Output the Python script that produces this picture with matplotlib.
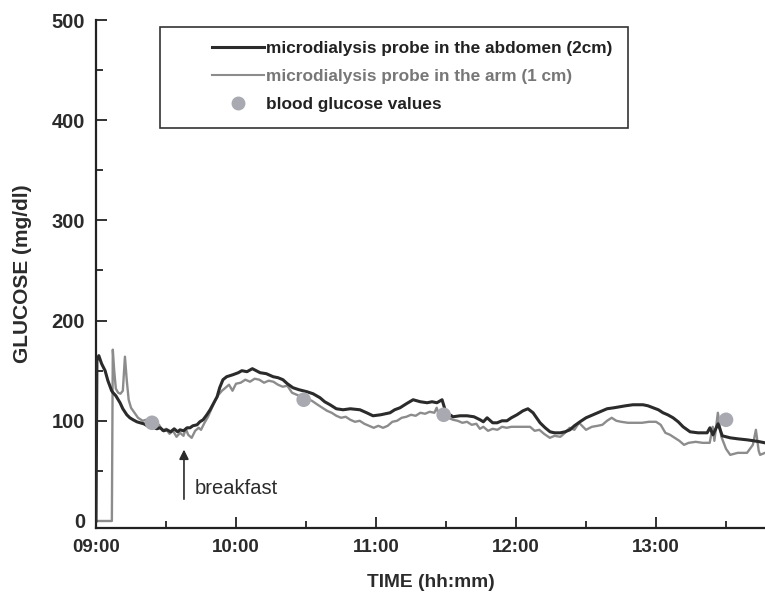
import matplotlib
matplotlib.use('Agg')
import matplotlib.pyplot as plt
from matplotlib.lines import Line2D
from matplotlib.patches import Rectangle
from matplotlib.ticker import MultipleLocator, FuncFormatter

plt.rcParams['font.family'] = ['Liberation Sans', 'DejaVu Sans']

# minutes after 09:00
abd_t = [0, 0.4, 1.2, 2.4, 3.9, 5.1, 6.7, 7.3, 8.5, 10.3, 11.5, 13.2, 14.5, 15.9, 17.5, 18.9,
         20.5, 22, 24.4, 26, 27.5, 29, 30.4, 32, 33.5, 35, 36, 37.5, 39, 40.3, 41.5, 43.3,
         44.5, 45.9, 47.5, 48.9, 50.5, 51.9, 53, 54.4, 56, 58.7, 61, 62.5, 64.7, 67, 70.3,
         73, 75.9, 78, 80.1, 82, 84.4, 87, 90.4, 93, 96, 98, 100.3, 103, 105.9, 109, 113.1,
         116, 118.7, 122, 126, 128, 130.3, 133, 135.9, 139, 141.9, 144, 146.1, 148.3, 149.6,
         151, 153, 156, 159, 162, 164.6, 166, 167.6, 170, 171.9, 174, 176.1, 178, 180.4, 183,
         185.1, 187.3, 190.3, 192.5, 194.6, 196.5, 198.9, 201, 203.1, 205, 207.4, 210, 213,
         216, 219, 222, 224.6, 227, 230.1, 232, 234.4, 236.5, 238.7, 241, 243, 245, 247.3,
         249.5, 251.6, 254.6, 258, 261.9, 263.1, 264.4, 266.6, 268.4, 271.8, 275, 279, 282,
         284.6, 286.7]
abd_v = [0, 160, 165, 157, 150, 140, 130, 128, 125, 118, 112, 106, 103, 101, 99, 98,
         97, 95, 94, 92, 93, 90, 91, 89, 92, 89, 91, 90, 93, 93, 95, 96,
         99, 101, 106, 111, 118, 124, 133, 141, 144, 146, 148, 150, 149, 152, 148,
         147, 144, 143, 141, 137, 133, 131, 129, 127, 123, 119, 116, 112, 111, 112, 111,
         108, 105, 106, 108, 111, 113, 117, 121, 119, 118, 119, 118, 121, 111,
         107, 104, 105, 105, 104, 101, 99, 103, 98, 98, 100, 100, 103, 106, 110,
         112, 108, 98, 93, 89, 88, 88, 89, 91, 95, 99, 103, 106,
         109, 112, 113, 114, 115, 116, 116, 116, 115, 113, 111, 108, 106, 103,
         99, 94, 89, 88, 88, 93, 86, 97, 85, 83, 82, 81, 80,
         79, 78]

arm_t = [0, 6.8, 7.2, 7.8, 8.5, 9.5, 10.5, 11.5, 12.4, 13.2, 14, 15, 16.5, 18, 20, 21.5,
         23, 24.5, 26, 27, 28.5, 30, 31.5, 33, 34.5, 36, 37.5, 38.5, 39.5, 41, 42.5, 44,
         45, 46.5, 48, 49.5, 51, 52.5, 54, 55.5, 57, 58.5, 60, 62, 64, 66, 68, 70, 72, 74,
         76, 78, 80, 82, 84, 86, 88, 90, 92.5, 95, 97, 99, 101, 103, 105, 107, 109, 111,
         113, 115, 117, 119, 121, 123, 125, 127, 129, 131, 133, 135, 137, 139, 141, 143,
         145, 146, 147, 149, 151, 153, 155, 157, 159, 161, 163, 164.5, 166, 168, 170, 172,
         174, 176, 178, 180, 183, 186, 188, 190, 192, 194.5, 196.5, 199, 201, 203, 205,
         207, 210, 212.5, 215, 217, 219, 221, 223, 225, 228, 231, 234, 237, 240, 242, 244,
         246, 248, 250, 252, 254, 257, 260, 263, 264.3, 265, 266.5, 268, 270, 271.8, 275,
         279, 281.5, 282.8, 284, 284.6, 286.7]
arm_v = [0, 0, 171, 150, 132, 128, 127, 130, 164, 140, 121, 113, 108, 103, 100, 101,
         97, 99, 93, 96, 90, 92, 87, 90, 84, 88, 85, 92, 86, 83, 90, 93,
         91, 98, 104, 112, 120, 126, 130, 133, 136, 130, 137, 138, 141, 139, 142, 141, 138, 140,
         139, 136, 134, 135, 128, 126, 124, 122, 120, 116, 113, 110, 108, 105, 103, 104, 101, 99,
         100, 97, 95, 93, 95, 93, 95, 99, 100, 103, 104, 106, 105, 108, 107, 109,
         108, 113, 105, 106, 103, 101, 100, 98, 99, 96, 97, 92, 94, 90, 92, 91,
         94, 93, 94, 94, 94, 94, 90, 91, 87, 83, 85, 84, 88, 93, 91,
         98, 91, 94, 95, 96, 100, 103, 100, 99, 98, 98, 98, 99, 99, 96, 88,
         86, 83, 80, 76, 78, 79, 78, 78, 94, 80, 108, 84, 72, 66, 68,
         68, 76, 91, 70, 66, 68]

blood_t = [24, 89, 149, 270]
blood_v = [98, 121, 106, 101]

breakfast_t = 37.7
hour_labels = ['09:00', '10:00', '11:00', '12:00', '13:00']

fig = plt.figure(figsize=(7.65, 5.99), dpi=100)
ax = fig.add_axes([96 / 765, 1 - 528 / 599, 669 / 765, 508 / 599])

ax.plot(abd_t, abd_v, color='#2b2b2b', lw=2.2, zorder=3)
ax.plot(arm_t, arm_v, color='#8c8c8c', lw=1.7, zorder=2)
ax.scatter(blood_t, blood_v, s=110, color='#a9a9b1', edgecolors='none', zorder=4)

ax.annotate('', xy=(breakfast_t, 74), xytext=(breakfast_t, 19),
            arrowprops=dict(arrowstyle='-|>', color='#2b2b2b', lw=1.2, mutation_scale=14))
ax.text(breakfast_t + 4.5, 32, 'breakfast', fontsize=14.5, color='#2b2b2b', va='center')

ax.set_xlim(0, 286.7)
ax.set_ylim(-7, 500)
ax.spines['top'].set_visible(False)
ax.spines['right'].set_visible(False)
for s in ('left', 'bottom'):
    ax.spines[s].set_linewidth(1.6)
    ax.spines[s].set_color('#222222')

ax.xaxis.set_major_locator(MultipleLocator(60))
ax.xaxis.set_minor_locator(MultipleLocator(30))
ax.xaxis.set_major_formatter(FuncFormatter(lambda x, p: hour_labels[int(round(x / 60))] if 0 <= round(x / 60) < len(hour_labels) else ''))
ax.yaxis.set_major_locator(MultipleLocator(100))
ax.yaxis.set_minor_locator(MultipleLocator(50))
ax.tick_params(which='both', direction='in', color='#222222', width=1.3)
ax.tick_params(which='major', length=8, pad=8)
ax.tick_params(which='minor', length=5)
ax.tick_params(axis='x', which='major', labelsize=13.5)
ax.tick_params(axis='y', which='major', labelsize=14.5)
for lab in ax.get_xticklabels() + ax.get_yticklabels():
    lab.set_fontweight('bold')
    lab.set_color('#2b2b2b')

ax.set_xlabel('TIME (hh:mm)', fontsize=13.8, fontweight='bold', color='#2b2b2b', labelpad=13)
ax.set_ylabel('GLUCOSE (mg/dl)', fontsize=15, fontweight='bold', color='#2b2b2b', labelpad=14)

# legend frame drawn separately so the entries can sit off-centre in it
ax.add_patch(Rectangle((0.0957, 0.787), 0.6995, 0.199, transform=ax.transAxes,
                       facecolor='white', edgecolor='#333333', lw=1.2, zorder=5))
handles = [Line2D([], [], color='#2b2b2b', lw=2.2),
           Line2D([], [], color='#8c8c8c', lw=1.5),
           Line2D([], [], color='#a9a9b1', marker='o', ls='none', markersize=9)]
labels = ['microdialysis probe in the abdomen (2cm)',
          'microdialysis probe in the arm (1 cm)',
          'blood glucose values']
leg = ax.legend(handles, labels, loc='upper left', bbox_to_anchor=(0.163, 0.972),
                frameon=False, fontsize=12.4, handlelength=3.0, handletextpad=0.15,
                labelspacing=0.76, borderaxespad=0)
leg.set_zorder(6)
for txt, c in zip(leg.get_texts(), ['#222222', '#777777', '#222222']):
    txt.set_color(c)
    txt.set_fontweight('bold')

fig.savefig('out.png', dpi=100)
